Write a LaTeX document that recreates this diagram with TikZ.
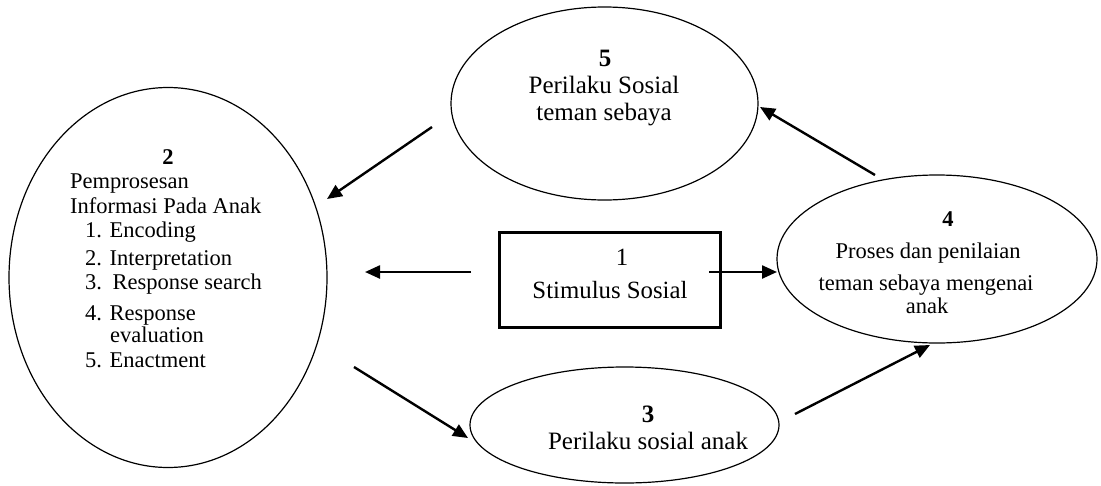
\documentclass[tikz,border=0pt]{standalone}
\usepackage{fontspec}
\setmainfont{Liberation Serif}
\usetikzlibrary{shapes.geometric,arrows.meta}
\begin{document}
\begin{tikzpicture}[x=1pt,y=-1pt,
  oval/.style={draw, ellipse, line width=1.2pt, inner sep=0pt},
  boxone/.style={draw, rectangle, line width=3pt, inner sep=0pt},
  arr/.style={line width=2.4pt, -{Triangle[length=15pt,width=13pt]}},
  lblc/.style={anchor=base, inner sep=0pt},
  lblw/.style={anchor=base west, inner sep=0pt},
  fsmall/.style={font=\fontsize{22.5}{27}\selectfont},
  fbig/.style={font=\fontsize{25}{30}\selectfont},
  fbox/.style={font=\fontsize{24.8}{30}\selectfont}]
\useasboundingbox (0,0) rectangle (1101,485);
\fill[white] (0,0) rectangle (1101,485);

% shapes
\node[oval, minimum width=318pt, minimum height=380pt] (e2) at (168,277.5) {};
\node[oval, minimum width=307pt, minimum height=193pt] (e5) at (604.5,103.5) {};
\node[oval, minimum width=320pt, minimum height=168pt] (e4) at (937,259) {};
\node[oval, minimum width=309pt, minimum height=116pt] (e3) at (624.5,425) {};
\node[boxone, minimum width=221pt, minimum height=95pt] (b1) at (609.5,279.5) {};

% texts of ellipse 2
\node[lblc, fsmall] (e2n) at (168,164) {\textbf{2}};
\node[lblw, fsmall] (e2a) at (70,188) {Pemprosesan};
\node[lblw, fsmall] (e2b) at (70,213) {Informasi Pada Anak};
\node[lblw, fsmall] (e2c) at (85,237) {1. Encoding};
\node[lblw, fsmall] (e2d) at (85,265) {2. Interpretation};
\node[lblw, fsmall] (e2e) at (85,289) {3.\hspace{3pt} Response search};
\node[lblw, fsmall] (e2f) at (85,320) {4. Response};
\node[lblw, fsmall] (e2g) at (110,342) {evaluation};
\node[lblw, fsmall] (e2h) at (85,367) {5. Enactment};

% texts of ellipse 5
\node[lblc, fbig] (e5n) at (605,66) {\textbf{5}};
\node[lblc, fbig] (e5a) at (604,93) {Perilaku Sosial};
\node[lblc, fbig] (e5b) at (604,120) {teman sebaya};

% texts of ellipse 4
\node[lblc, fsmall] (e4n) at (948,226) {\textbf{4}};
\node[lblc, fsmall] (e4a) at (928,258) {Proses dan penilaian};
\node[lblc, fsmall] (e4b) at (926,290) {teman sebaya mengenai};
\node[lblc, fsmall] (e4c) at (927,313) {anak};

% texts of ellipse 3
\node[lblc, fbig] (e3n) at (648,422) {\textbf{3}};
\node[lblc, fbig] (e3a) at (648,449) {Perilaku sosial anak};

% texts of box 1
\node[lblc, fbox] (b1n) at (622,265) {1};
\node[lblc, fbox] (b1a) at (610,298) {Stimulus Sosial};

% arrow end points
\coordinate (s52) at (432,127); \coordinate (t52) at (327,199);
\coordinate (s12) at (471,272); \coordinate (t12) at (365,272);
\coordinate (s14) at (709,272); \coordinate (t14) at (777,272);
\coordinate (s23) at (354,367); \coordinate (t23) at (468,438);
\coordinate (s34) at (795,414); \coordinate (t34) at (930,345);
\coordinate (s45) at (875,175); \coordinate (t45) at (760,107);

\draw[arr] (s52) -- (t52);
\draw[arr] (s12) -- (t12);
\draw[arr] (s14) -- (t14);
\draw[arr] (s23) -- (t23);
\draw[arr] (s34) -- (t34);
\draw[arr] (s45) -- (t45);
\end{tikzpicture}
\end{document}
